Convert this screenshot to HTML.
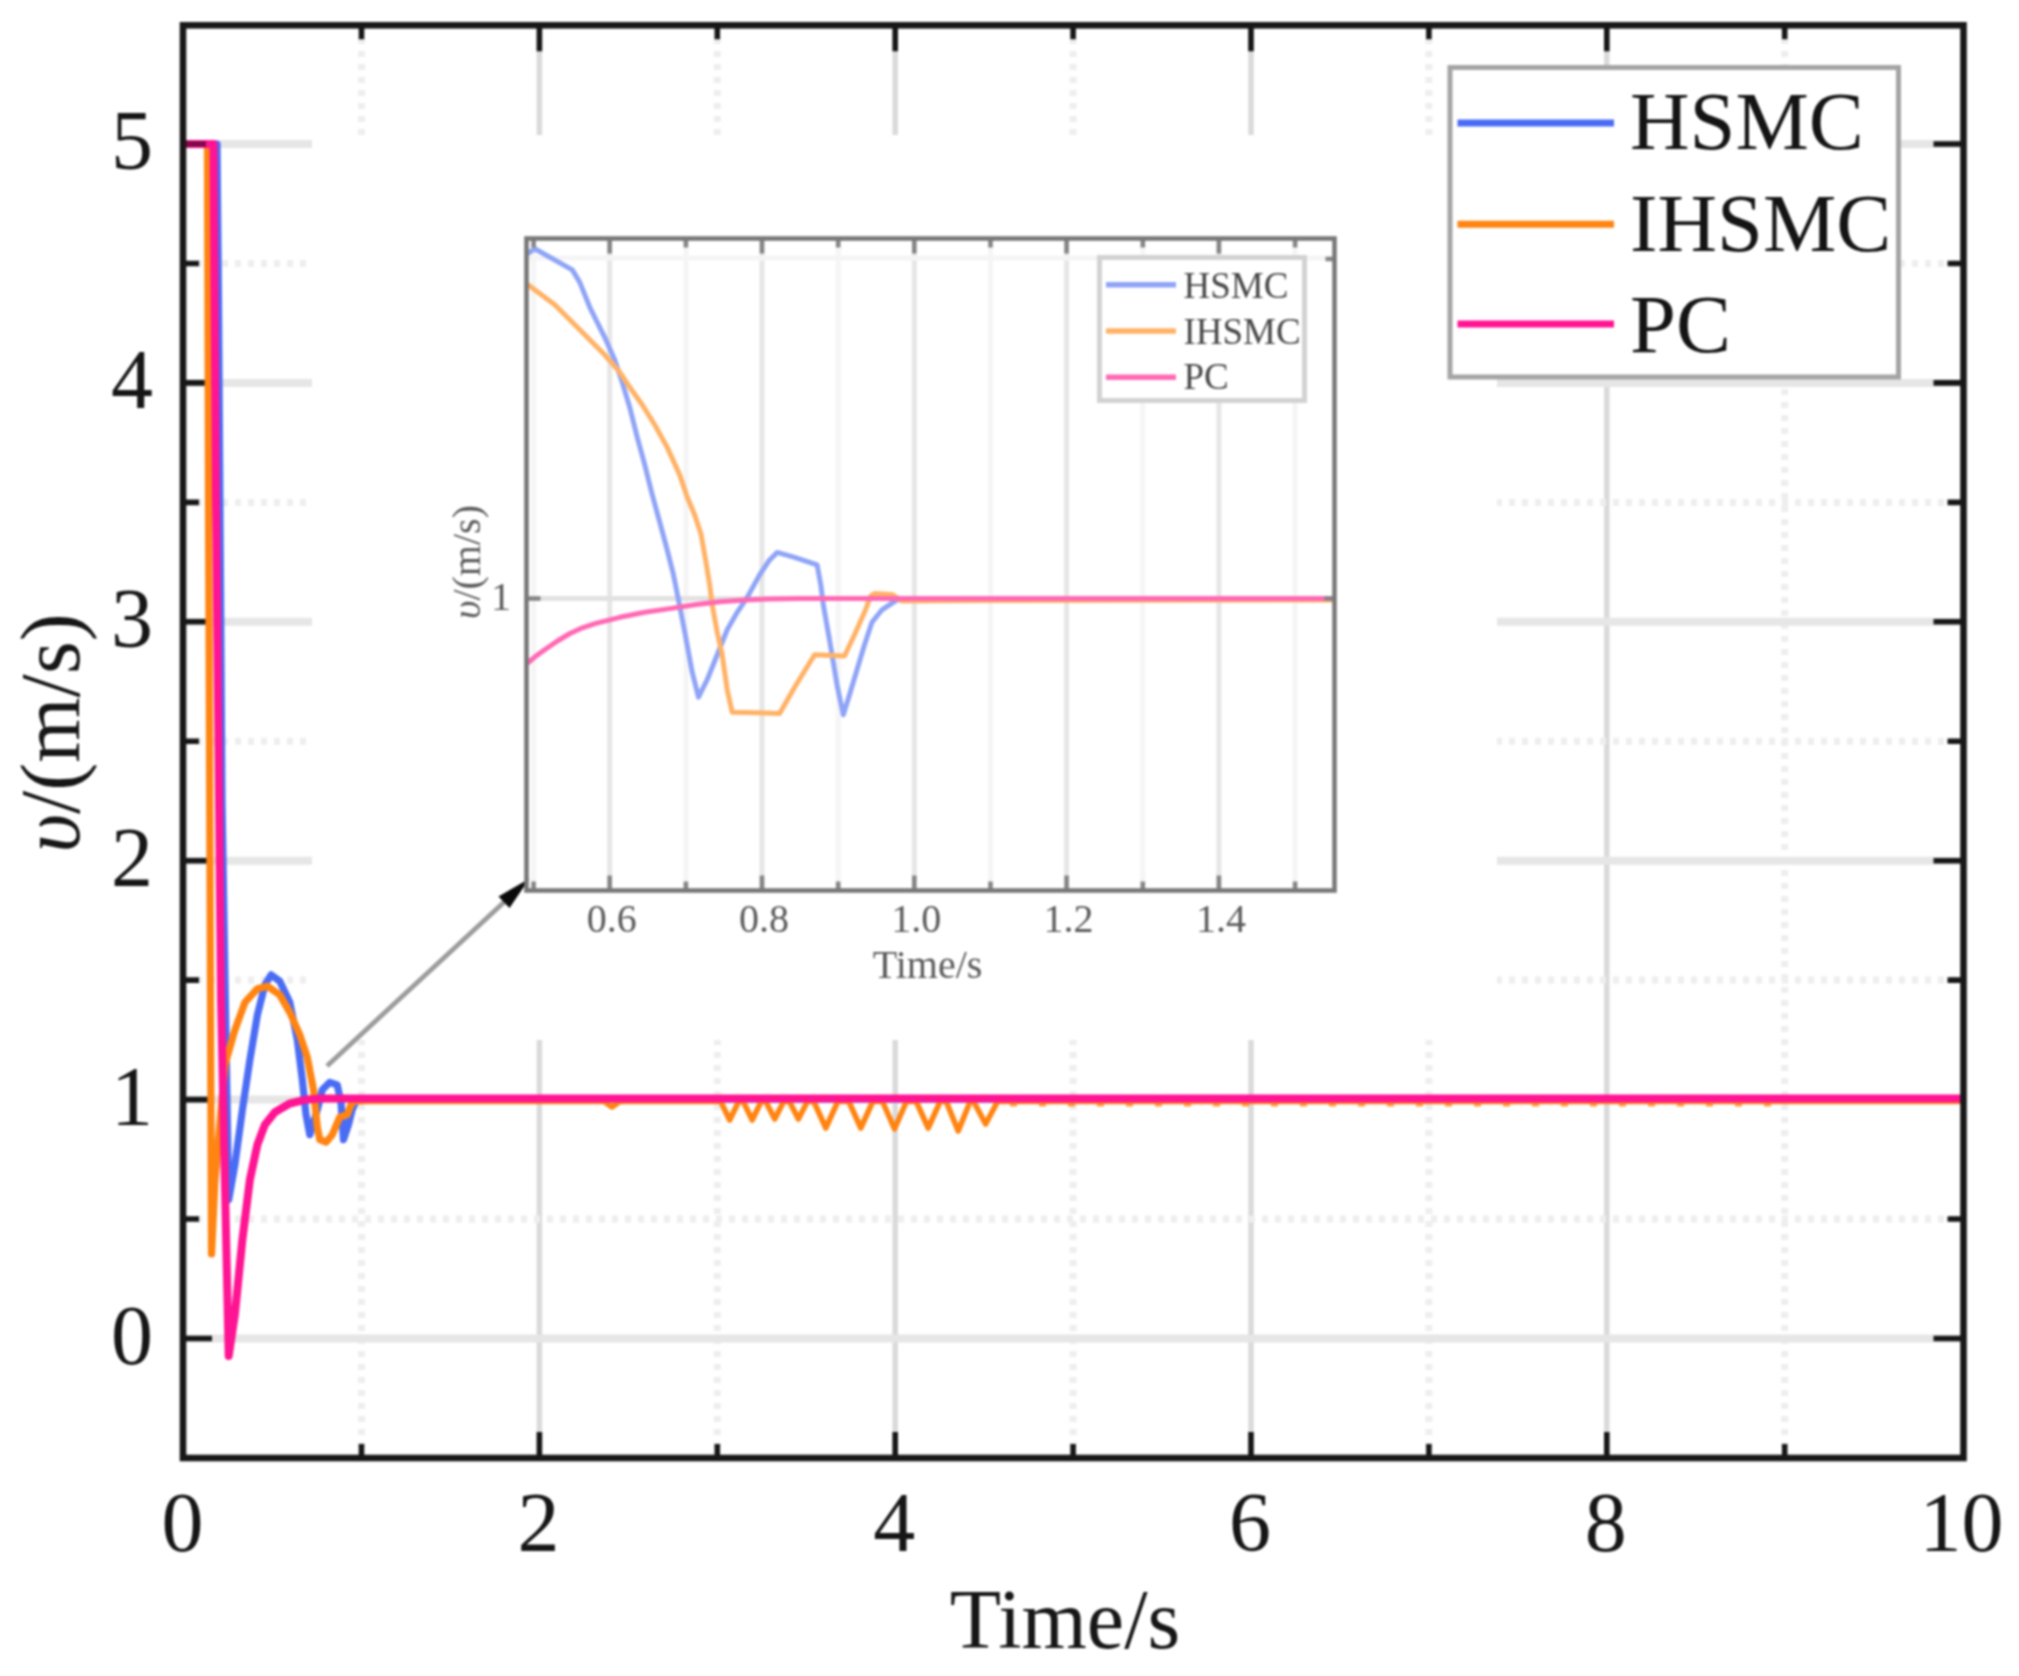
<!DOCTYPE html>
<html lang="en">
<head>
<meta charset="utf-8">
<title>Velocity response: HSMC, IHSMC, PC</title>
<style>
html,body{margin:0;padding:0;background:#fff;}
body{width:2019px;height:1676px;overflow:hidden;}
svg{display:block;filter:blur(1.3px);}
text{font-family:"Liberation Serif","DejaVu Serif",serif;}
.tl text{font-size:84px;fill:#161616;}
.lg text{font-size:82.5px;fill:#141414;}
.it text{font-size:40px;fill:#5a5a5a;}
.il text{font-size:37px;fill:#484848;}
.gM{stroke:#dadada;stroke-width:5.5;}
.gMh{stroke:#e6e6e6;stroke-width:8;}
.gm{stroke:#eeeeee;stroke-width:7;stroke-dasharray:6 7;}
</style>
</head>
<body>
<svg width="2019" height="1676" viewBox="0 0 2019 1676">
<rect x="0" y="0" width="2019" height="1676" fill="#fff"/>
<g id="grid"><line x1="539.4" y1="25" x2="539.4" y2="1458" class="gM"/><line x1="895.2" y1="25" x2="895.2" y2="1458" class="gM"/><line x1="1251.0" y1="25" x2="1251.0" y2="1458" class="gM"/><line x1="1606.8" y1="25" x2="1606.8" y2="1458" class="gM"/><line x1="361.5" y1="25" x2="361.5" y2="1458" class="gm"/><line x1="717.3" y1="25" x2="717.3" y2="1458" class="gm"/><line x1="1073.1" y1="25" x2="1073.1" y2="1458" class="gm"/><line x1="1428.9" y1="25" x2="1428.9" y2="1458" class="gm"/><line x1="1784.7" y1="25" x2="1784.7" y2="1458" class="gm"/><line x1="183" y1="1338.5" x2="1963" y2="1338.5" class="gMh"/><line x1="183" y1="1099.6" x2="1963" y2="1099.6" class="gMh"/><line x1="183" y1="860.7" x2="1963" y2="860.7" class="gMh"/><line x1="183" y1="621.8" x2="1963" y2="621.8" class="gMh"/><line x1="183" y1="382.9" x2="1963" y2="382.9" class="gMh"/><line x1="183" y1="144.0" x2="1963" y2="144.0" class="gMh"/><line x1="183" y1="1219.0" x2="1963" y2="1219.0" class="gm"/><line x1="183" y1="980.1" x2="1963" y2="980.1" class="gm"/><line x1="183" y1="741.2" x2="1963" y2="741.2" class="gm"/><line x1="183" y1="502.4" x2="1963" y2="502.4" class="gm"/><line x1="183" y1="263.5" x2="1963" y2="263.5" class="gm"/></g>
<rect x="312" y="135" width="1185" height="905" fill="#fff"/>
<path d="M539.4 25.3v26 M539.4 1458.0v-26 M895.2 25.3v26 M895.2 1458.0v-26 M1251.0 25.3v26 M1251.0 1458.0v-26 M1606.8 25.3v26 M1606.8 1458.0v-26 M361.5 25.3v14 M361.5 1458.0v-14 M717.3 25.3v14 M717.3 1458.0v-14 M1073.1 25.3v14 M1073.1 1458.0v-14 M1428.9 25.3v14 M1428.9 1458.0v-14 M1784.7 25.3v14 M1784.7 1458.0v-14 M183.0 1338.5h29 M1963.5 1338.5h-30 M183.0 1099.6h29 M1963.5 1099.6h-30 M183.0 860.7h29 M1963.5 860.7h-30 M183.0 621.8h29 M1963.5 621.8h-30 M183.0 382.9h29 M1963.5 382.9h-30 M183.0 144.0h29 M1963.5 144.0h-30 M183.0 1219.0h16 M1963.5 1219.0h-16 M183.0 980.1h16 M1963.5 980.1h-16 M183.0 741.2h16 M1963.5 741.2h-16 M183.0 502.4h16 M1963.5 502.4h-16 M183.0 263.5h16 M1963.5 263.5h-16" stroke="#161616" stroke-width="5.6" fill="none"/>
<g fill="none" stroke-linejoin="round" stroke-width="7.2">
<polyline points="184.0,144.0 217.0,144.0 218.5,300.0 222.0,800.0 228.7,1199.6 234.9,1164.7 242.4,1109.7 249.9,1059.8 257.4,1014.9 264.9,984.9 271.1,974.9 279.8,981.2 289.8,1002.4 297.3,1039.9 302.3,1079.8 306.0,1114.7 309.8,1134.7 317.3,1109.7 322.3,1089.8 329.8,1082.3 337.2,1084.8 341.0,1102.3 343.5,1139.7 348.5,1124.7 352.2,1109.7 356.0,1101.0 364.0,1099.0 1963.0,1099.0" stroke="#4a6cf5"/>
<polyline points="184.0,144.0 207.5,144.0 208.5,500.0 211.5,1254.0 215.0,1180.0 224.9,1064.8 234.9,1029.9 244.9,1002.4 257.4,988.7 267.4,986.2 279.8,994.9 289.8,1012.4 299.8,1034.9 307.3,1057.3 313.5,1089.8 317.3,1127.2 319.8,1139.7 326.0,1142.2 332.3,1134.7 339.7,1117.2 347.2,1114.7 351.0,1104.7 354.7,1101.0 364.0,1101.0" stroke="#ff8412"/>
<polyline points="364.0,1101.5 604.0,1101.5 612.0,1107.0 620.0,1101.5 720.7,1101.5 729.7,1120.0 738.7,1101.5 743.2,1101.5 752.2,1120.0 761.2,1101.5 765.7,1101.5 774.7,1119.0 783.7,1101.5 789.4,1101.5 798.4,1119.0 807.4,1101.5 813.8,1101.5 825.8,1128.0 837.8,1101.5 848.8,1101.5 860.8,1128.0 872.8,1101.5 882.5,1101.5 894.5,1129.0 906.5,1101.5 916.2,1101.5 928.2,1128.0 940.2,1101.5 946.2,1101.5 958.2,1131.0 970.2,1101.5 973.6,1101.5 985.6,1124.0 997.6,1101.5 1963.0,1101.5" stroke="#ff8412" stroke-width="5.6"/>
<line x1="1010" y1="1104.5" x2="1790" y2="1104.5" stroke="#ff8412" stroke-width="4" stroke-dasharray="7 22" stroke-opacity=".8"/>
<polyline points="184.0,144.0 213.5,144.0 216.0,500.0 221.0,1000.0 228.7,1356.0 234.9,1314.4 242.4,1239.5 249.9,1179.6 257.4,1144.7 264.9,1124.7 274.8,1112.2 289.8,1103.5 304.8,1099.8 319.8,1098.5 1963.0,1098.5" stroke="#ff1493" stroke-width="8"/>
</g>
<line x1="183.0" y1="144.0" x2="206" y2="144.0" stroke="#000" stroke-width="5.6" stroke-opacity=".5"/>
<rect x="183.0" y="25.3" width="1780.5" height="1432.7" fill="none" stroke="#181818" stroke-width="6.6"/>
<g class="tl">
<text x="153" y="1363.5" text-anchor="end">0</text>
<text x="153" y="1124.6" text-anchor="end">1</text>
<text x="153" y="885.7" text-anchor="end">2</text>
<text x="153" y="646.8" text-anchor="end">3</text>
<text x="153" y="407.9" text-anchor="end">4</text>
<text x="153" y="169.0" text-anchor="end">5</text>
<text x="182.6" y="1551" text-anchor="middle">0</text>
<text x="538.4" y="1551" text-anchor="middle">2</text>
<text x="894.2" y="1551" text-anchor="middle">4</text>
<text x="1250.0" y="1551" text-anchor="middle">6</text>
<text x="1605.8" y="1551" text-anchor="middle">8</text>
<text x="1961.6" y="1551" text-anchor="middle">10</text>
<text x="1065" y="1648" text-anchor="middle">Time/s</text>
<text transform="translate(79,733) rotate(-90)" text-anchor="middle"><tspan font-style="italic">υ</tspan>/(m/s)</text>
</g>
<line x1="327" y1="1066" x2="508" y2="898.5" stroke="#9c9c9c" stroke-width="4.8"/>
<polygon points="529.5,878.5 509.5,908 498.5,896.5" fill="#0a0a0a"/>
<line x1="609.7" y1="238.5" x2="609.7" y2="890.5" stroke="#e6e6e6" stroke-width="5"/><line x1="762.0" y1="238.5" x2="762.0" y2="890.5" stroke="#e6e6e6" stroke-width="5"/><line x1="914.3" y1="238.5" x2="914.3" y2="890.5" stroke="#e6e6e6" stroke-width="5"/><line x1="1066.6" y1="238.5" x2="1066.6" y2="890.5" stroke="#e6e6e6" stroke-width="5"/><line x1="1218.9" y1="238.5" x2="1218.9" y2="890.5" stroke="#e6e6e6" stroke-width="5"/><line x1="533.6" y1="238.5" x2="533.6" y2="890.5" stroke="#f5f5f5" stroke-width="5"/><line x1="685.9" y1="238.5" x2="685.9" y2="890.5" stroke="#f5f5f5" stroke-width="5"/><line x1="838.2" y1="238.5" x2="838.2" y2="890.5" stroke="#f5f5f5" stroke-width="5"/><line x1="990.5" y1="238.5" x2="990.5" y2="890.5" stroke="#f5f5f5" stroke-width="5"/><line x1="1142.8" y1="238.5" x2="1142.8" y2="890.5" stroke="#f5f5f5" stroke-width="5"/><line x1="1295.1" y1="238.5" x2="1295.1" y2="890.5" stroke="#f5f5f5" stroke-width="5"/><line x1="526.5" y1="598.5" x2="1334.5" y2="598.5" stroke="#e2e2e2" stroke-width="5"/><line x1="526.5" y1="258" x2="1334.5" y2="258" stroke="#f5f5f5" stroke-width="5"/>
<g fill="none" stroke-linejoin="round" stroke-width="5">
<polyline points="527.0,254.0 534.8,248.7 572.3,269.9 579.8,282.4 589.8,307.3 604.7,337.3 614.7,359.8 622.2,382.2 629.7,407.2 637.2,437.1 644.7,464.6 652.2,494.6 659.7,522.0 667.1,549.5 673.4,574.4 678.4,599.4 684.8,632.3 692.2,672.2 698.5,697.2 707.2,679.7 717.2,654.8 727.2,629.8 737.2,612.3 747.2,597.4 759.6,574.9 769.6,559.9 777.1,552.4 794.6,557.4 817.1,564.9 820.8,584.9 823.3,604.8 829.5,639.8 837.0,684.7 843.3,714.7 849.5,694.7 857.0,669.7 864.5,644.8 872.0,622.3 882.0,609.8 896.9,599.9 915.0,598.5 1334.0,598.5" stroke="#8fa4f7"/>
<polyline points="527.0,284.0 554.8,304.8 579.8,329.8 604.7,354.8 619.7,372.2 629.7,387.2 642.2,404.7 654.7,424.7 667.1,447.1 679.6,474.6 687.2,497.0 694.7,515.0 701.0,534.0 706.0,562.4 709.7,584.9 712.2,604.8 717.2,632.3 722.2,654.8 727.2,689.7 732.2,712.2 779.6,713.4 794.6,687.2 814.6,654.8 844.5,656.0 854.5,634.8 864.5,612.3 870.7,596.1 874.5,593.6 891.9,594.4 901.9,601.1 990.0,600.5 1334.0,600.0" stroke="#ffb266"/>
<polyline points="527.0,663.5 535.0,656.8 545.0,649.5 557.4,641.0 569.9,633.5 582.4,627.8 594.9,623.6 619.9,617.3 644.8,612.3 669.8,608.6 694.7,604.8 719.7,601.8 744.7,599.9 769.6,598.9 800.0,598.5 1334.0,598.5" stroke="#ff69b4"/>
</g>
<path d="M533.6 238.5v9 M533.6 890.5v-9 M609.7 238.5v15 M609.7 890.5v-15 M685.9 238.5v9 M685.9 890.5v-9 M762.0 238.5v15 M762.0 890.5v-15 M838.2 238.5v9 M838.2 890.5v-9 M914.3 238.5v15 M914.3 890.5v-15 M990.5 238.5v9 M990.5 890.5v-9 M1066.6 238.5v15 M1066.6 890.5v-15 M1142.8 238.5v9 M1142.8 890.5v-9 M1218.9 238.5v15 M1218.9 890.5v-15 M1295.1 238.5v9 M1295.1 890.5v-9 M526.5 598.5h14 M1334.5 598.5h-10 M1334.5 259h-9" stroke="#858585" stroke-width="4.6" fill="none"/>
<rect x="526.5" y="238.5" width="808.0" height="652.0" fill="none" stroke="#787878" stroke-width="4.6"/>
<rect x="1099.5" y="257.5" width="205" height="143" fill="#fff" stroke="#d2d2d2" stroke-width="5"/>
<line x1="1106" y1="284.8" x2="1176" y2="284.8" stroke="#8fa4f7" stroke-width="5.5"/>
<line x1="1106" y1="331.0" x2="1176" y2="331.0" stroke="#ffb266" stroke-width="5.5"/>
<line x1="1106" y1="377.2" x2="1176" y2="377.2" stroke="#ff69b4" stroke-width="5.5"/>
<g class="il">
<text x="1183.5" y="297.5">HSMC</text><text x="1183.5" y="343.5">IHSMC</text><text x="1183.5" y="389">PC</text>
</g>
<g class="it">
<text x="611.7" y="932" text-anchor="middle">0.6</text>
<text x="764.0" y="932" text-anchor="middle">0.8</text>
<text x="916.3" y="932" text-anchor="middle">1.0</text>
<text x="1068.6" y="932" text-anchor="middle">1.2</text>
<text x="1220.9" y="932" text-anchor="middle">1.4</text>
<text x="927.5" y="978" text-anchor="middle">Time/s</text>
<text x="501" y="610" text-anchor="middle">1</text>
<text transform="translate(480,562) rotate(-90)" text-anchor="middle"><tspan font-style="italic">υ</tspan>/(m/s)</text>
</g>
<rect x="1450" y="67.5" width="448.5" height="309.5" fill="#fff" stroke="#a4a4a4" stroke-width="5"/>
<line x1="1457.5" y1="122.9" x2="1614" y2="122.9" stroke="#4a6cf5" stroke-width="7"/>
<line x1="1457.5" y1="224.2" x2="1614" y2="224.2" stroke="#ff8412" stroke-width="7"/>
<line x1="1457.5" y1="324.0" x2="1614" y2="324.0" stroke="#ff1493" stroke-width="7"/>
<g class="lg"><text x="1630" y="149">HSMC</text><text x="1630" y="251">IHSMC</text><text x="1630" y="352">PC</text></g>
</svg>
</body>
</html>
